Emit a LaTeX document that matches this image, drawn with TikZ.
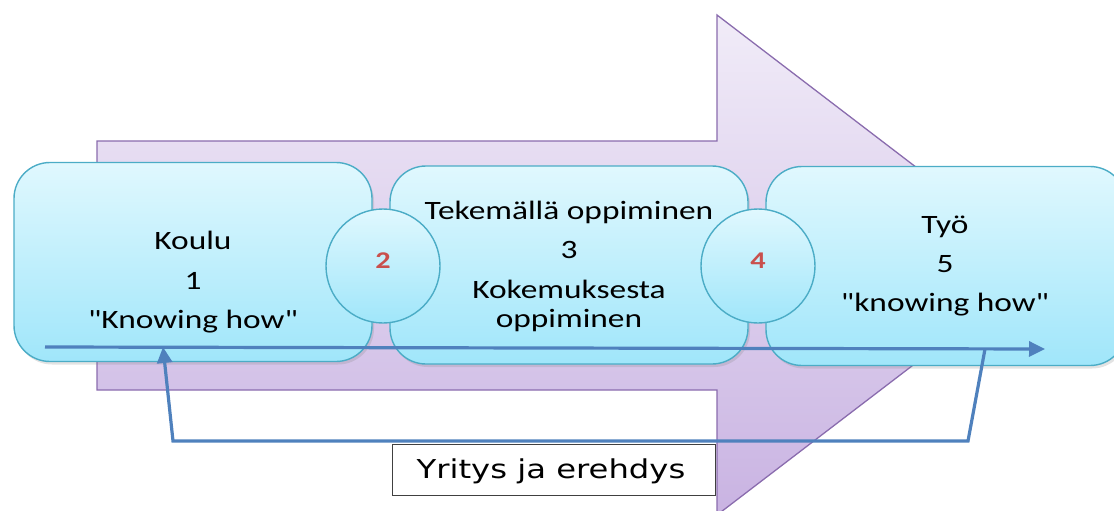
\documentclass[tikz,border=0pt]{standalone}
\usepackage{fontspec}
\setmainfont{Carlito}[Ligatures=TeXOff, FakeStretch=1.26]
\newfontfamily\notefont{DejaVu Sans}[Ligatures=TeXOff, FakeStretch=1.24]
\usetikzlibrary{arrows.meta,shadows}
\definecolor{arrowtop}{HTML}{F1ECF8}
\definecolor{arrowbot}{HTML}{C9B3E2}
\definecolor{arrowline}{HTML}{8A6CAE}
\definecolor{boxtop}{HTML}{E0F8FE}
\definecolor{boxbot}{HTML}{A0E6FA}
\definecolor{boxline}{HTML}{4BACC6}
\definecolor{flow}{HTML}{4F81BD}
\definecolor{numred}{HTML}{C9504D}
\begin{document}
\begin{tikzpicture}[x=1pt,y=-1pt,
  stagebox/.style={rounded corners=36pt, draw=boxline, line width=1.4pt,
    top color=boxtop, bottom color=boxbot, outer sep=0pt,
    drop shadow={opacity=0.22, shadow xshift=2pt, shadow yshift=-3pt}},
  stepcircle/.style={circle, draw=boxline, line width=1.4pt,
    top color=boxtop, bottom color=boxbot, outer sep=0pt, inner sep=0pt,
    minimum size=114pt},
  line/.style={anchor=base, inner sep=0pt, font=\fontsize{26.5}{30}\selectfont},
  num/.style={inner sep=0pt, text=numred, font=\bfseries\fontsize{24}{26}\selectfont},
  flowline/.style={draw=flow, line width=3.2pt, line join=miter},
  flowtip/.style={-{Triangle[length=16pt,width=15pt]}}]
\useasboundingbox (0,0) rectangle (1114,511);

% background block arrow
\path[top color=arrowtop, bottom color=arrowbot, draw=arrowline, line width=1.3pt]
  (97,141) -- (717,141) -- (717,15) -- (1044,265) -- (717,515) -- (717,390)
  -- (97,390) -- cycle;

% stage boxes
\node[stagebox, minimum width=358pt, minimum height=199pt] (b1) at (193,262) {};
\node[stagebox, minimum width=358pt, minimum height=198pt] (b2) at (569,265) {};
\node[stagebox, minimum width=360pt, minimum height=199pt] (b3) at (946,266) {};

% transition circles
\node[stepcircle] (c2) at (383,266) {};
\node[stepcircle] (c4) at (758,266) {};
\node[num] (n2) at (383,261) {2};
\node[num] (n4) at (758,261) {4};

% box texts
\node[line] (t1a) at (193,249) {Koulu};
\node[line] (t1b) at (193,289) {1};
\node[line] (t1c) at (193,328) {"Knowing how"};
\node[line] (t2a) at (569,219) {Tekemällä oppiminen};
\node[line] (t2b) at (569,258) {3};
\node[line] (t2c) at (569,298) {Kokemuksesta};
\node[line] (t2d) at (569,327) {oppiminen};
\node[line] (t3a) at (945,233) {Työ};
\node[line] (t3b) at (945,272) {5};
\node[line] (t3c) at (945,311) {"knowing how"};

% main flow line and the trial-and-error loop back
\coordinate (fs) at (45,347);
\coordinate (fe) at (1045,349);
\coordinate (lp1) at (985,349);
\coordinate (lp2) at (968,441);
\coordinate (lp3) at (173,441);
\coordinate (lp4) at (163,347);
\draw[flowline, flowtip] (fs) -- (fe);
\draw[flowline, flowtip] (lp1) -- (lp2) -- (lp3) -- (lp4);

% loop label
\node[draw=black!75, line width=0.8pt, fill=white, minimum width=323pt,
  minimum height=51pt, inner sep=0pt] (lbl) at (553.5,469.5) {};
\node[anchor=base, inner sep=0pt, font=\notefont\fontsize{26}{30}\selectfont]
  (lbltext) at (551,478) {Yritys ja erehdys};
\end{tikzpicture}
\end{document}
